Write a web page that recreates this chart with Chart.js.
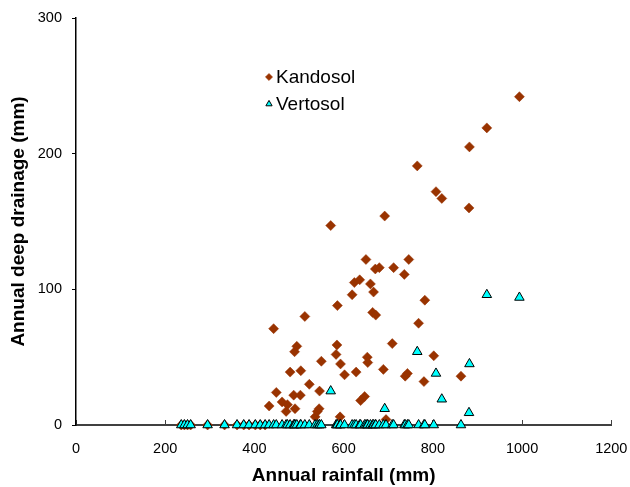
<!DOCTYPE html>
<html>
<head>
<meta charset="utf-8">
<script src="https://cdn.jsdelivr.net/npm/chart.js@4.4.1/dist/chart.umd.min.js"></script>
<style>
  html, body { margin: 0; padding: 0; background: #fff; overflow: hidden; }
  #wrap { width: 630px; height: 487px; position: relative; }
  canvas { display: block; }
</style>
</head>
<body>
<div id="wrap"><canvas id="chart"></canvas></div>
<script>
// annual rainfall (mm) and deep drainage (mm) under each soil, one entry per year
var rainfall = [236, 243, 250, 257, 295, 333, 361, 376, 388, 402, 413, 424,
  433, 443, 449, 462, 471, 474, 480, 488, 490, 491, 495, 503, 504, 513, 523,
  536, 541, 545, 546, 550, 571, 583, 585, 586, 592, 593, 602, 619, 624, 628,
  636, 638, 647, 650, 653, 654, 660, 665, 667, 671, 672, 680, 689, 692, 695,
  709, 712, 736, 738, 743, 746, 765, 768, 780, 782, 802, 807, 820, 863, 881,
  882, 921, 994];
var kandosol = [0, 0, 0, 0, 0, 0, 0, 0, 0, 0, 0, 0,
  14, 71, 24, 17, 10, 15, 39, 22, 54, 12, 58, 22, 40, 80, 30,
  6, 10, 12, 25, 47, 147, 52, 59, 88, 6, 45, 37, 96, 105, 39,
  107, 18, 21, 122, 50, 46, 104, 83, 98, 115, 81, 116, 41, 154, 4,
  60, 116, 111, 36, 38, 122, 191, 75, 32, 92, 51, 172, 167, 36, 160,
  205, 219, 242];
var vertosol = [0, 0, 0, 0, 0, 0, 0, 0, 0, 0, 0, 0,
  0, 0, 0, 0, 0, 0, 0, 0, 0, 0, 0, 0, 0, 0, 0,
  0, 0, 0, 0, 0, 25, 0, 0, 0, 0, 0, 0, 0, 0, 0,
  0, 0, 0, 0, 0, 0, 0, 0, 0, 0, 0, 0, 0, 12, 0,
  0, 0, 0, 0, 0, 0, 54, 0, 0, 0, 0, 38, 19, 0, 9,
  45, 96, 94];
var seriesNames = ['Kandosol', 'Vertosol'];

function toPoints(ys) {
    return rainfall.map(function (x, i) { return { x: x, y: ys[i] }; });
}

var fontName = '"Liberation Sans", Arial, sans-serif';

// legend drawn inside the plot, as in the original
var innerLegend = {
    id: 'innerLegend',
    afterDraw: function (chart) {
        var ctx = chart.ctx;
        var area = chart.chartArea;
        var x = area.left + 193;
        var y = area.top + 59;
        ctx.save();
        chart.data.datasets.slice().sort(function (a, b) { return b.order - a.order; })
            .forEach(function (ds, i) {
                var yy = y + i * 27;
                ctx.fillStyle = ds.backgroundColor;
                ctx.strokeStyle = ds.borderColor;
                ctx.lineWidth = ds.borderWidth;
                Chart.helpers.drawPoint(ctx, {
                    pointStyle: ds.pointStyle,
                    radius: 3.6,
                    borderWidth: ds.borderWidth,
                    rotation: 0
                }, x, yy);
                ctx.fillStyle = '#000';
                ctx.font = '19px ' + fontName;
                ctx.textBaseline = 'middle';
                ctx.textAlign = 'left';
                ctx.fillText(ds.label, x + 7, yy + 1);
            });
        ctx.restore();
    }
};

var chart = new Chart(document.getElementById('chart'), {
    type: 'scatter',
    data: {
        datasets: [{
            label: seriesNames[0],
            data: toPoints(kandosol),
            pointStyle: 'rectRot',
            pointRadius: 5,
            backgroundColor: '#993300',
            borderColor: '#993300',
            borderWidth: 0.5,
            order: 2,
            clip: false
        }, {
            label: seriesNames[1],
            data: toPoints(vertosol),
            pointStyle: 'triangle',
            pointRadius: 5.5,
            backgroundColor: '#00FFFF',
            borderColor: '#000000',
            borderWidth: 1,
            order: 1,
            clip: false
        }]
    },
    options: {
        responsive: true,
        maintainAspectRatio: false,
        animation: false,
        events: [],
        layout: { padding: { top: 18, right: 18.7, bottom: 0, left: 0 } },
        plugins: {
            legend: { display: false },
            tooltip: { enabled: false }
        },
        scales: {
            x: {
                type: 'linear',
                min: 0,
                max: 1200,
                afterFit: function (s) {
                    s.height = 62;
                    s.paddingLeft = 0;
                    s.paddingRight = 0;
                },
                border: { color: '#404040', width: 2 },
                grid: { drawOnChartArea: false, drawTicks: true, tickLength: -5, color: '#404040', lineWidth: 1 },
                ticks: {
                    stepSize: 200,
                    padding: 20,
                    color: '#000',
                    font: { family: fontName, size: 14.5 },
                    callback: function (v) { return String(v); }
                },
                title: {
                    display: true,
                    text: 'Annual rainfall (mm)',
                    color: '#000',
                    font: { family: fontName, size: 19, weight: 'bold' },
                    padding: { top: 0, bottom: 0 }
                }
            },
            y: {
                type: 'linear',
                min: 0,
                max: 300,
                afterFit: function (s) {
                    s.width = 76;
                    s.paddingTop = 0;
                    s.paddingBottom = 0;
                },
                border: { color: '#000', width: 1.5 },
                grid: { drawOnChartArea: false, drawTicks: true, tickLength: 4, color: '#000', lineWidth: 1 },
                ticks: {
                    stepSize: 100,
                    padding: 10,
                    color: '#000',
                    font: { family: fontName, size: 14.5 },
                    callback: function (v) { return String(v); }
                },
                title: {
                    display: true,
                    text: 'Annual deep drainage (mm)',
                    color: '#000',
                    font: { family: fontName, size: 19, weight: 'bold' },
                    padding: { top: 7, bottom: 0 }
                }
            }
        }
    },
    plugins: [innerLegend]
});
</script>
</body>
</html>
